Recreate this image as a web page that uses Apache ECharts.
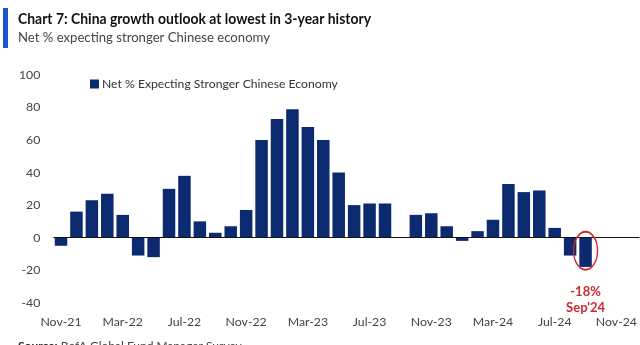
<!DOCTYPE html>
<html>
<head>
<meta charset="utf-8">
<script src="https://cdn.jsdelivr.net/npm/echarts@6/dist/echarts.min.js"></script>
<style>
  html, body { margin: 0; padding: 0; background: #fff; }
  #chart { width: 640px; height: 345px; }
</style>
</head>
<body>
<div id="chart"></div>
<script>
// Monthly survey months, Nov-21 through Dec-24
const months = [
  'Nov-21', 'Dec-21', 'Jan-22', 'Feb-22', 'Mar-22', 'Apr-22', 'May-22', 'Jun-22',
  'Jul-22', 'Aug-22', 'Sep-22', 'Oct-22', 'Nov-22', 'Dec-22', 'Jan-23', 'Feb-23',
  'Mar-23', 'Apr-23', 'May-23', 'Jun-23', 'Jul-23', 'Aug-23', 'Sep-23', 'Oct-23',
  'Nov-23', 'Dec-23', 'Jan-24', 'Feb-24', 'Mar-24', 'Apr-24', 'May-24', 'Jun-24',
  'Jul-24', 'Aug-24', 'Sep-24', 'Oct-24', 'Nov-24', 'Dec-24'
];

// Net % of fund managers expecting a stronger Chinese economy
const netStronger = [
  -5, 16, 23, 27, 14, -11, -12, 30,
  38, 10, 3, 7, 17, 60, 73, 79,
  68, 60, 40, 20, 21, 21, null, 14,
  15, 7, -2, 4, 11, 33, 28, 29,
  6, -11, -18, null, null, null
];

const yTicks = { min: -40, max: 100, step: 20 };
const highlightMonth = 'Sep-24';
const highlightLabel = "Sep'24";

const seriesName = 'Net % Expecting Stronger Chinese Economy';
const titleText = 'Chart 7: China growth outlook at lowest in 3-year history';
const subtitleText = 'Net % expecting stronger Chinese economy';
const highlightValue = netStronger[months.indexOf(highlightMonth)];

const baseFont = 'Lato, "Open Sans", sans-serif';

// Horizontal squeeze so a heading fits a given width (mimics a condensed face)
function squeezeFor(text, font, targetWidth) {
  const ctx = document.createElement('canvas').getContext('2d');
  ctx.font = font;
  const w = ctx.measureText(text).width;
  return w > 0 ? Math.min(1, targetWidth / w) : 1;
}

const titleFont = 'bold 16px ' + baseFont;
const subtitleFont = '14px ' + baseFont;

const chart = echarts.init(document.getElementById('chart'), null, { renderer: 'canvas' });

chart.setOption({
  animation: false,
  backgroundColor: '#ffffff',
  graphic: [
    { type: 'rect', left: 3, top: 8, shape: { width: 5, height: 40 }, style: { fill: '#1a56c8' } },
    {
      type: 'text', x: 18, y: 11,
      scaleX: squeezeFor(titleText, titleFont, 353),
      style: { text: titleText, font: titleFont, fill: '#111111' }
    },
    {
      type: 'text', x: 18, y: 30,
      scaleX: squeezeFor(subtitleText, subtitleFont, 252),
      style: { text: subtitleText, font: subtitleFont, fill: '#444444' }
    },
    {
      type: 'text', left: 18, top: 340,
      style: {
        text: '{b|Source:} BofA Global Fund Manager Survey',
        fill: '#444444',
        font: '12px ' + baseFont,
        rich: { b: { fontWeight: 'bold', fill: '#222', fontSize: 12, fontFamily: baseFont } }
      }
    }
  ],
  legend: {
    data: [seriesName],
    left: 85, top: 73,
    itemWidth: 9, itemHeight: 9, itemGap: 4,
    icon: 'rect',
    textStyle: { fontFamily: baseFont, fontSize: 12.2, color: '#333333', padding: [0, 0, 0, -2] }
  },
  grid: { left: 53.3, right: 0, top: 75, bottom: 42.3, containLabel: false },
  xAxis: {
    type: 'category',
    data: months,
    boundaryGap: true,
    axisLine: { show: false, onZero: false },
    axisTick: { show: false },
    axisLabel: {
      interval: 3,
      margin: 13,
      fontFamily: baseFont, fontSize: 12.3, color: '#444444'
    }
  },
  yAxis: {
    type: 'value',
    min: yTicks.min, max: yTicks.max, interval: yTicks.step,
    axisLine: { show: false },
    axisTick: { show: false },
    splitLine: { show: false },
    axisLabel: { margin: 13, fontFamily: baseFont, fontSize: 12.3, color: '#444444' }
  },
  series: [{
    name: seriesName,
    type: 'bar',
    data: netStronger,
    barWidth: 12.5,
    itemStyle: { color: '#0b2a6f' },
    markLine: {
      silent: true,
      symbol: 'none',
      label: { show: false },
      lineStyle: { color: '#111111', width: 1, type: 'solid' },
      data: [{ yAxis: 0 }]
    },
    markPoint: {
      silent: true,
      data: [
        {
          coord: [highlightMonth, highlightValue / 2 + 1],
          symbol: 'circle',
          symbolSize: [24, 38],
          itemStyle: { color: 'rgba(0,0,0,0)', borderColor: '#d0282e', borderWidth: 1.6 },
          label: { show: false }
        },
        {
          coord: [highlightMonth, highlightValue],
          symbol: 'rect',
          symbolSize: 1,
          itemStyle: { color: 'rgba(0,0,0,0)' },
          label: {
            show: true,
            position: 'bottom',
            distance: 16,
            formatter: () => highlightValue + '%\n' + highlightLabel,
            fontFamily: baseFont, fontSize: 13, fontWeight: 'bold',
            color: '#d0282e', lineHeight: 16, align: 'center'
          }
        }
      ]
    }
  }]
});
</script>
</body>
</html>
